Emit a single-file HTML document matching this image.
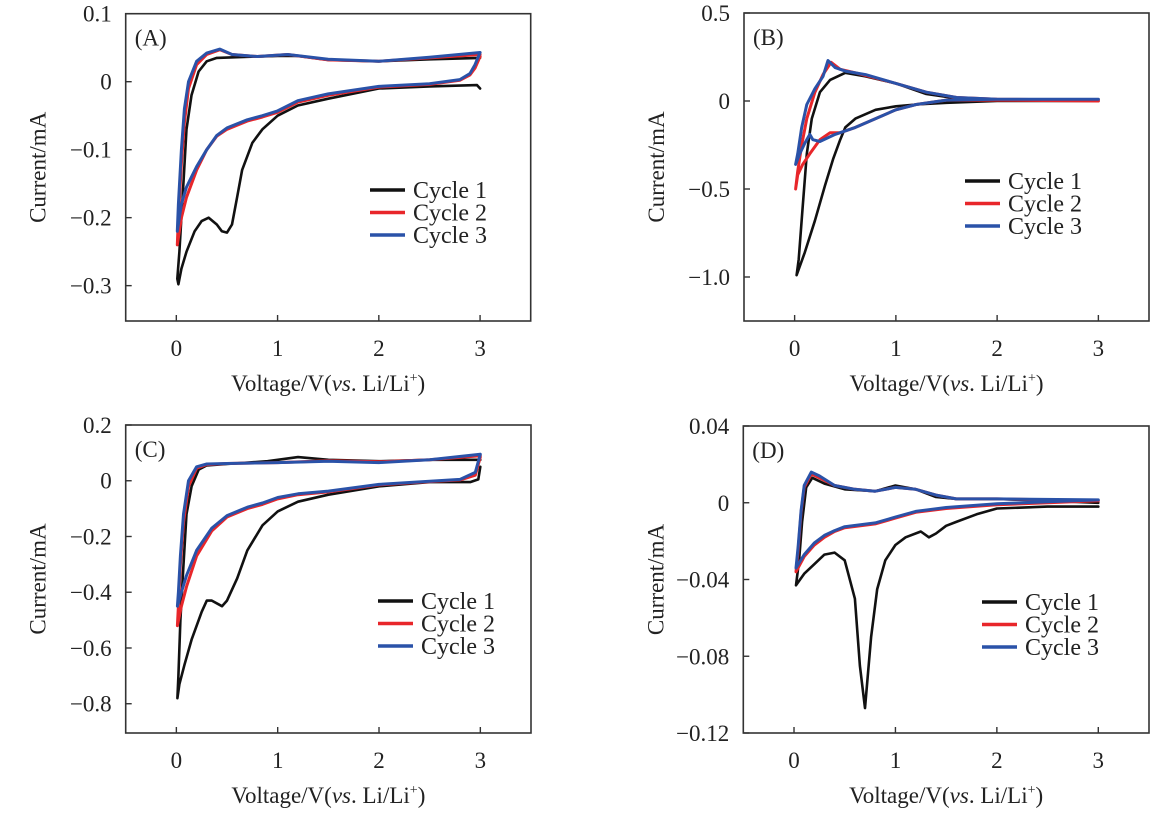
<!DOCTYPE html>
<html><head><meta charset="utf-8">
<style>
body{margin:0;background:#fff;}
svg{display:block;font-family:"Liberation Serif",serif;}
</style></head>
<body>
<svg id="fig" width="1173" height="829" viewBox="0 0 1173 829"></svg>
<script>
// ---- Panel A data (V, mA) ----
const aC1V=[3,2.97,2.5,2,1.5,1.2,1,0.85,0.75,0.65,0.6,0.55,0.5,0.45,0.4,0.32,0.25,0.18,0.1,0.05,0.02,0.01,0.03,0.07,0.1,0.15,0.22,0.3,0.4,0.6,1.0,1.2,1.5,2,2.5,3];
const aC1I=[-0.01,-0.005,-0.007,-0.01,-0.025,-0.035,-0.05,-0.07,-0.09,-0.13,-0.17,-0.21,-0.222,-0.22,-0.21,-0.2,-0.205,-0.22,-0.25,-0.275,-0.298,-0.29,-0.25,-0.15,-0.07,-0.02,0.015,0.03,0.035,0.036,0.038,0.038,0.032,0.03,0.033,0.035];
const aC2V=[3,2.95,2.9,2.8,2.5,2,1.5,1.2,1.0,0.85,0.7,0.5,0.4,0.3,0.2,0.1,0.05,0.01,0.02,0.05,0.08,0.12,0.2,0.3,0.43,0.55,0.8,1.1,1.5,2,2.5,3];
const aC2I=[0.037,0.02,0.01,0.002,-0.004,-0.008,-0.02,-0.03,-0.045,-0.052,-0.058,-0.07,-0.08,-0.1,-0.13,-0.17,-0.2,-0.24,-0.2,-0.12,-0.06,-0.01,0.025,0.04,0.047,0.04,0.037,0.04,0.032,0.03,0.035,0.04];
const aC3V=[3,2.95,2.9,2.8,2.5,2,1.5,1.2,1.0,0.85,0.7,0.5,0.4,0.3,0.2,0.15,0.1,0.05,0.01,0.02,0.05,0.08,0.12,0.2,0.3,0.43,0.55,0.8,1.1,1.5,2,2.5,3];
const aC3I=[0.043,0.025,0.012,0.003,-0.003,-0.007,-0.018,-0.028,-0.043,-0.05,-0.056,-0.068,-0.079,-0.1,-0.125,-0.14,-0.155,-0.18,-0.22,-0.18,-0.1,-0.04,0.0,0.03,0.042,0.048,0.04,0.037,0.04,0.033,0.03,0.036,0.043];
// ---- Panel B data ----
const bC1V=[3,2,1.5,1.2,1,0.8,0.6,0.5,0.45,0.38,0.3,0.2,0.1,0.02,0.04,0.08,0.12,0.17,0.25,0.35,0.5,0.7,1.0,1.3,1.6,2,3];
const bC1I=[0,0,-0.01,-0.02,-0.03,-0.05,-0.1,-0.15,-0.22,-0.33,-0.48,-0.68,-0.86,-0.99,-0.9,-0.6,-0.3,-0.1,0.05,0.12,0.16,0.14,0.1,0.04,0.015,0.005,0];
const bC2V=[3,2,1.5,1.2,1,0.8,0.6,0.45,0.35,0.25,0.15,0.08,0.03,0.01,0.03,0.07,0.12,0.2,0.28,0.36,0.45,0.6,1.0,1.3,1.6,2,3];
const bC2I=[0,0.005,0.005,-0.02,-0.05,-0.1,-0.15,-0.18,-0.18,-0.22,-0.3,-0.36,-0.42,-0.5,-0.4,-0.25,-0.1,0.05,0.15,0.22,0.18,0.16,0.1,0.05,0.02,0.01,0.005];
const bC3V=[3,2,1.5,1.2,1,0.8,0.6,0.4,0.25,0.18,0.15,0.1,0.05,0.01,0.03,0.07,0.12,0.2,0.28,0.33,0.4,0.5,0.7,1.0,1.3,1.6,2,3];
const bC3I=[0.01,0.01,0.005,-0.02,-0.05,-0.1,-0.15,-0.19,-0.23,-0.22,-0.19,-0.24,-0.3,-0.36,-0.3,-0.15,-0.02,0.07,0.14,0.23,0.19,0.17,0.15,0.1,0.05,0.02,0.01,0.01];
// ---- Panel C data ----
const cC1V=[3,2.98,2.9,2.5,2,1.5,1.2,1,0.85,0.7,0.6,0.5,0.45,0.35,0.3,0.25,0.15,0.08,0.03,0.01,0.02,0.04,0.07,0.1,0.15,0.22,0.3,0.5,0.9,1.2,1.5,2,2.5,3];
const cC1I=[0.05,0.005,-0.005,-0.005,-0.02,-0.05,-0.075,-0.11,-0.16,-0.25,-0.35,-0.43,-0.45,-0.43,-0.43,-0.47,-0.57,-0.66,-0.73,-0.78,-0.7,-0.5,-0.3,-0.12,-0.02,0.04,0.055,0.06,0.07,0.085,0.075,0.07,0.075,0.075];
const cC2V=[3,2.95,2.8,2.5,2,1.5,1.2,1,0.85,0.7,0.5,0.35,0.2,0.1,0.05,0.01,0.02,0.04,0.07,0.12,0.2,0.3,0.5,1,1.5,2,2.5,3];
const cC2I=[0.085,0.02,0.003,-0.003,-0.015,-0.04,-0.05,-0.065,-0.085,-0.1,-0.13,-0.18,-0.27,-0.38,-0.45,-0.52,-0.45,-0.3,-0.15,-0.02,0.045,0.058,0.062,0.065,0.072,0.068,0.075,0.09];
const cC3V=[3,2.95,2.8,2.5,2,1.5,1.2,1,0.85,0.7,0.5,0.35,0.2,0.1,0.05,0.01,0.02,0.04,0.07,0.12,0.2,0.3,0.5,1,1.5,2,2.5,3];
const cC3I=[0.095,0.03,0.005,-0.002,-0.013,-0.037,-0.047,-0.06,-0.08,-0.095,-0.125,-0.17,-0.25,-0.34,-0.4,-0.45,-0.4,-0.27,-0.12,0.0,0.05,0.06,0.062,0.065,0.07,0.065,0.075,0.095];
// ---- Panel D data ----
const dC1V=[3,2.5,2,1.8,1.6,1.5,1.4,1.33,1.25,1.1,1.0,0.9,0.82,0.76,0.7,0.65,0.6,0.5,0.4,0.3,0.2,0.1,0.02,0.05,0.08,0.12,0.18,0.3,0.5,0.8,1,1.2,1.4,1.6,2,2.5,3];
const dC1I=[-0.002,-0.002,-0.003,-0.006,-0.01,-0.012,-0.016,-0.018,-0.015,-0.018,-0.022,-0.03,-0.045,-0.07,-0.107,-0.085,-0.05,-0.03,-0.026,-0.027,-0.032,-0.037,-0.043,-0.03,-0.01,0.008,0.013,0.01,0.007,0.006,0.009,0.007,0.003,0.002,0.002,0.001,0];
const dC2V=[3,2.5,2,1.5,1.2,1,0.8,0.5,0.4,0.3,0.2,0.1,0.02,0.04,0.07,0.1,0.17,0.25,0.4,0.6,0.8,1.0,1.2,1.4,1.6,2,3];
const dC2I=[0.001,0,-0.001,-0.003,-0.005,-0.008,-0.011,-0.013,-0.015,-0.018,-0.022,-0.028,-0.036,-0.025,-0.005,0.008,0.015,0.013,0.009,0.007,0.006,0.008,0.007,0.004,0.002,0.002,0.001];
const dC3I=[0.0015,0.0005,-0.0005,-0.0025,-0.0045,-0.0075,-0.0105,-0.0125,-0.0145,-0.017,-0.021,-0.027,-0.034,-0.023,-0.004,0.009,0.016,0.014,0.009,0.007,0.006,0.008,0.007,0.004,0.002,0.002,0.0015];

const xTicks=[0,1,2,3];
const aTicks=[0.1,0,-0.1,-0.2,-0.3], aTickLbl=["0.1","0","\u22120.1","\u22120.2","\u22120.3"];
const bTicks=[0.5,0,-0.5,-1.0], bTickLbl=["0.5","0","\u22120.5","\u22121.0"];
const cTicks=[0.2,0,-0.2,-0.4,-0.6,-0.8], cTickLbl=["0.2","0","\u22120.2","\u22120.4","\u22120.6","\u22120.8"];
const dTicks=[0.04,0,-0.04,-0.08,-0.12], dTickLbl=["0.04","0","\u22120.04","\u22120.08","\u22120.12"];
const seriesNames=["Cycle 1","Cycle 2","Cycle 3"];
const colors=["#111111","#e8262a","#2a52a8"];

const NS="http://www.w3.org/2000/svg";
const svg=document.getElementById('fig');
function mk(tag,attrs,parent){const e=document.createElementNS(NS,tag);for(const k in attrs)e.setAttribute(k,attrs[k]);(parent||svg).appendChild(e);return e;}

function panel(id,box,ymin,ymax,ticks,tickLbl,series,leg){
  const [L,T,R,B]=box;
  const xs=v=>L+(v+0.5)/4*(R-L);
  const ys=v=>T+(ymax-v)/(ymax-ymin)*(B-T);
  const g=mk('g',{});
  
  
  const fr=mk('rect',{x:L,y:T,width:R-L,height:B-T,fill:'none',stroke:'#333',"stroke-width":1.6},g);
  
  
  xTicks.forEach(t=>{
    const x=xs(t);
    const tk=mk('line',{x1:x,x2:x,y1:B,y2:B-6,stroke:'#333',"stroke-width":1.4},g);
    
    
    const lb=mk('text',{x:x,y:B+35,"text-anchor":"middle","font-size":23,fill:'#222'},g);
    lb.textContent=String(t);
    
    
  });
  ticks.forEach((t,i)=>{
    const y=ys(t);
    const tk=mk('line',{x1:L,x2:L+6,y1:y,y2:y,stroke:'#333',"stroke-width":1.4},g);
    
    
    const lb=mk('text',{x:L-14,y:y+8,"text-anchor":"end","font-size":23,fill:'#222'},g);
    lb.textContent=tickLbl[i];
    
    
  });
  const xt=mk('text',{x:(L+R)/2,y:B+70,"text-anchor":"middle","font-size":23,fill:'#222'},g);
  xt.innerHTML='Voltage/V(<tspan font-style="italic">vs</tspan>. Li/Li<tspan dy="-9" font-size="14">+</tspan><tspan dy="9">)</tspan>';
  
  
  const yt=mk('text',{x:0,y:0,"text-anchor":"middle","font-size":23,fill:'#222',transform:`translate(${L-80},${(T+B)/2}) rotate(-90)`},g);
  yt.textContent='Current/mA';
  
  
  const pl=mk('text',{x:L+9,y:T+32,"font-size":23,fill:'#222'},g);
  pl.textContent='('+id+')';
  
  
  series.forEach((s,k)=>{
    const [V,I]=s;
    const d=V.map((v,i)=>(i?'L':'M')+xs(v).toFixed(1)+' '+ys(I[i]).toFixed(1)).join(' ');
    const p=mk('path',{d:d,fill:'none',stroke:colors[k],"stroke-width":k==0?2.6:3,"stroke-linejoin":"round","stroke-linecap":"round"},g);
    
    
  });
  seriesNames.forEach((n,k)=>{
    const y=leg[1]+k*22.5;
    const ln=mk('line',{x1:leg[0],x2:leg[0]+35,y1:y,y2:y,stroke:colors[k],"stroke-width":3.5},g);
    
    
    const tx=mk('text',{x:leg[0]+43,y:y+8,"font-size":24,fill:'#222'},g);
    tx.textContent=n;
    
    
  });
}
panel('A',[125.7,13.7,530.7,321],-0.352,0.1,aTicks,aTickLbl,[[aC1V,aC1I],[aC2V,aC2I],[aC3V,aC3I]],[370,190]);
panel('B',[744,13,1149,321],-1.25,0.5,bTicks,bTickLbl,[[bC1V,bC1I],[bC2V,bC2I],[bC3V,bC3I]],[965,181]);
panel('C',[125.7,425,531,733],-0.905,0.2,cTicks,cTickLbl,[[cC1V,cC1I],[cC2V,cC2I],[cC3V,cC3I]],[378,601]);
panel('D',[743.3,426,1149,733],-0.12,0.04,dTicks,dTickLbl,[[dC1V,dC1I],[dC2V,dC2I],[dC2V,dC3I]],[982,602]);
</script>
</body></html>
